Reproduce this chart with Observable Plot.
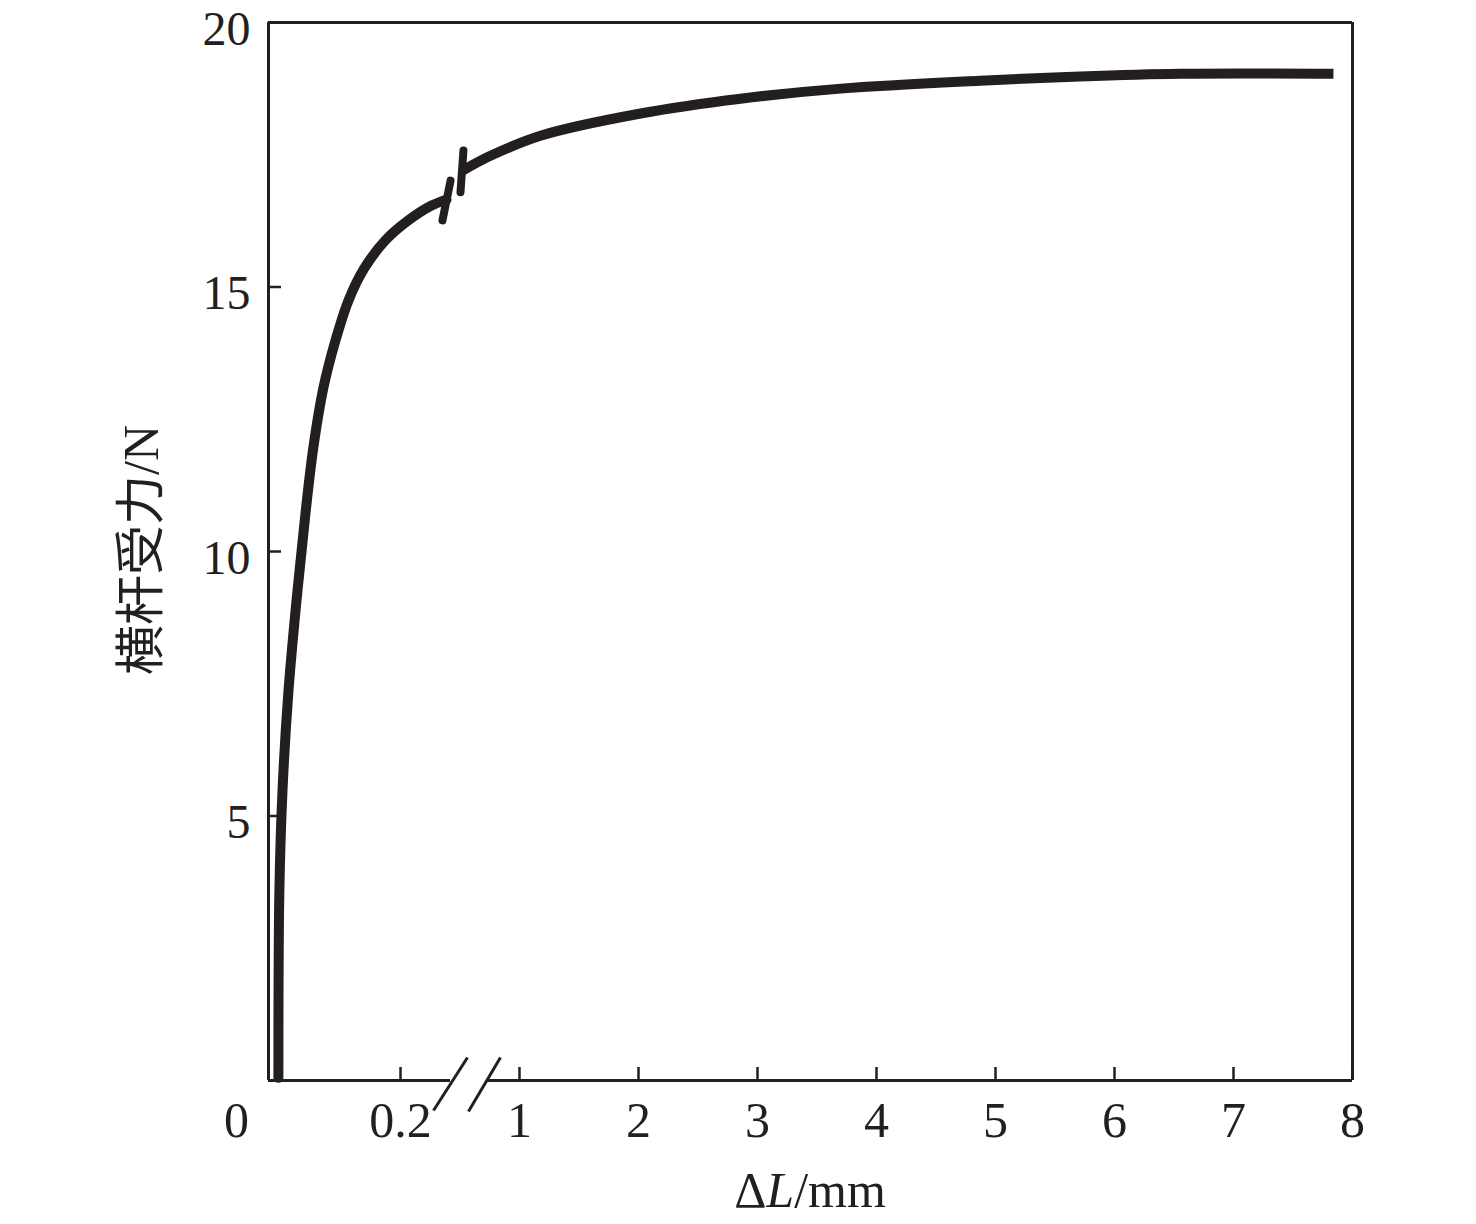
<!DOCTYPE html>
<html>
<head>
<meta charset="utf-8">
<script src="https://cdn.jsdelivr.net/npm/d3@7"></script>
<script src="https://cdn.jsdelivr.net/npm/@observablehq/plot@0.6"></script>
<style>
  html, body { margin: 0; padding: 0; background: #fff; }
</style>
</head>
<body>
<div id="chart"></div>
<script>
// ---- data ----
// left part of the broken x axis (0 … 0.28 mm)
const leftX = [0.015, 0.0165, 0.0212, 0.0303, 0.0439, 0.056, 0.068, 0.0833, 0.1015, 0.121, 0.145, 0.177, 0.212, 0.247, 0.2697];
const leftY = [0.05, 3.6, 5.48, 7.37, 9.26, 10.72, 11.97, 13.10, 13.99, 14.74, 15.35, 15.88, 16.26, 16.54, 16.65];
// right part (0.45 … 8 mm)
const rightX = [0.521, 0.756, 1.176, 2.017, 2.857, 3.70, 4.87, 5.71, 6.55, 7.84];
const rightY = [17.20, 17.48, 17.86, 18.28, 18.56, 18.75, 18.90, 18.98, 19.03, 19.03];

// small cut marks on the curve at the break
const cutX1 = [0.2636, 0.504];
const cutY1 = [16.26, 16.79];
const cutX2 = [0.2758, 0.529];
const cutY2 = [17.01, 17.58];

// "//" axis-break marks
const slashX1 = [0.25, 0.571];
const slashY1 = [-0.567, -0.586];
const slashX2 = [0.563, 0.840];
const slashY2 = [0.435, 0.435];

// bottom axis pieces (gap at the break)
const axisPieceX1 = [0, 0.731];
const axisPieceX2 = [0.2758, 8];

const xTicks = [0.2, 1, 2, 3, 4, 5, 6, 7, 8];
const yTicks = [5, 10, 15];
const yTickLabels = [5, 10, 15, 20];

const xLabelMain = "Δ";
const xLabelItalic = "L";
const xLabelUnit = "/mm";
const yLabel = "横杆受力/N";

// ---- build ----
const ink = "#231f20";
const W = 1476, H = 1224;
const mL = 268, mR = 124, mT = 22, mB = 144;
const fs = 50;

const leftData = leftX.map((x, i) => ({x, y: leftY[i]}));
const rightData = rightX.map((x, i) => ({x, y: rightY[i]}));
const cuts = cutX1.map((x, i) => ({x1: x, y1: cutY1[i], x2: cutX2[i], y2: cutY2[i]}));
const slashes = slashX1.map((x, i) => ({x1: x, y1: slashY1[i], x2: slashX2[i], y2: slashY2[i]}));
const axisPieces = axisPieceX1.map((x, i) => ({x1: x, x2: axisPieceX2[i]}));

const leftPx = 660;   // px per mm on left piece
const rightPx = 119;  // px per mm on right piece
const xRange = [mL, mL + 0.28 * leftPx, W - mR - (8 - 0.45) * rightPx, W - mR];

const chart = Plot.plot({
  width: W,
  height: H,
  marginLeft: mL,
  marginRight: mR,
  marginTop: mT,
  marginBottom: mB,
  style: {fontFamily: "'Liberation Serif', 'Times New Roman', serif", fontSize: fs + "px", color: ink, background: "#fff"},
  x: {type: "linear", domain: [0, 0.28, 0.45, 8], range: xRange},
  y: {domain: [0, 20]},
  marks: [
    // frame
    Plot.ruleX([0], {y1: 0, y2: 20, stroke: ink, strokeWidth: 3}),
    Plot.ruleX([8], {y1: 0, y2: 20, stroke: ink, strokeWidth: 3}),
    Plot.ruleY([20], {x1: 0, x2: 8, stroke: ink, strokeWidth: 3}),
    Plot.ruleY(axisPieces, {y: () => 0, x1: "x1", x2: "x2", stroke: ink, strokeWidth: 3}),
    // inward ticks
    Plot.ruleX(xTicks, {x: d => d, y1: 0, y2: 13 / 52.9, stroke: ink, strokeWidth: 2.5}),
    Plot.ruleY(yTicks, {y: d => d, x1: 0, x2: 13 / leftPx, stroke: ink, strokeWidth: 2.5}),
    // axis labels
    Plot.axisX({ticks: xTicks, tickSize: 0, tickPadding: 21, tickFormat: d => String(d), fill: ink}),
    Plot.axisY({ticks: yTickLabels, tickSize: 0, tickPadding: 18, dy: 7, fontSize: 48, tickFormat: d => String(d), fill: ink, label: null}),
    Plot.text([0], {x: d => d, y: () => 0, dx: -32, dy: 40, text: d => String(d), fill: ink}),
    // break slashes
    Plot.link(slashes, {x1: "x1", y1: "y1", x2: "x2", y2: "y2", stroke: ink, strokeWidth: 3}),
    // the curve
    Plot.line(leftData, {x: "x", y: "y", curve: "catmull-rom", stroke: ink, strokeWidth: 10, strokeLinecap: "round"}),
    Plot.line(rightData, {x: "x", y: "y", curve: "catmull-rom", stroke: ink, strokeWidth: 10, strokeLinecap: "butt"}),
    Plot.link(cuts, {x1: "x1", y1: "y1", x2: "x2", y2: "y2", stroke: ink, strokeWidth: 8, strokeLinecap: "round"})
  ]
});

const svg = d3.select(chart);
// x axis title with italic L
const xt = svg.append("text")
  .attr("x", 810).attr("y", 1207)
  .attr("text-anchor", "middle")
  .attr("fill", ink)
  .style("font-family", "'Liberation Serif', serif")
  .style("font-size", fs + "px");
xt.append("tspan").text(xLabelMain);
xt.append("tspan").style("font-style", "italic").text(xLabelItalic);
xt.append("tspan").text(xLabelUnit);

// y axis title
svg.append("text")
  .attr("transform", "translate(158,550) rotate(-90)")
  .attr("text-anchor", "middle")
  .attr("fill", ink)
  .style("font-family", "'Liberation Serif', 'Noto Sans CJK SC', serif")
  .style("font-size", fs + "px")
  .text(yLabel);

document.getElementById("chart").appendChild(chart);
</script>
</body>
</html>
